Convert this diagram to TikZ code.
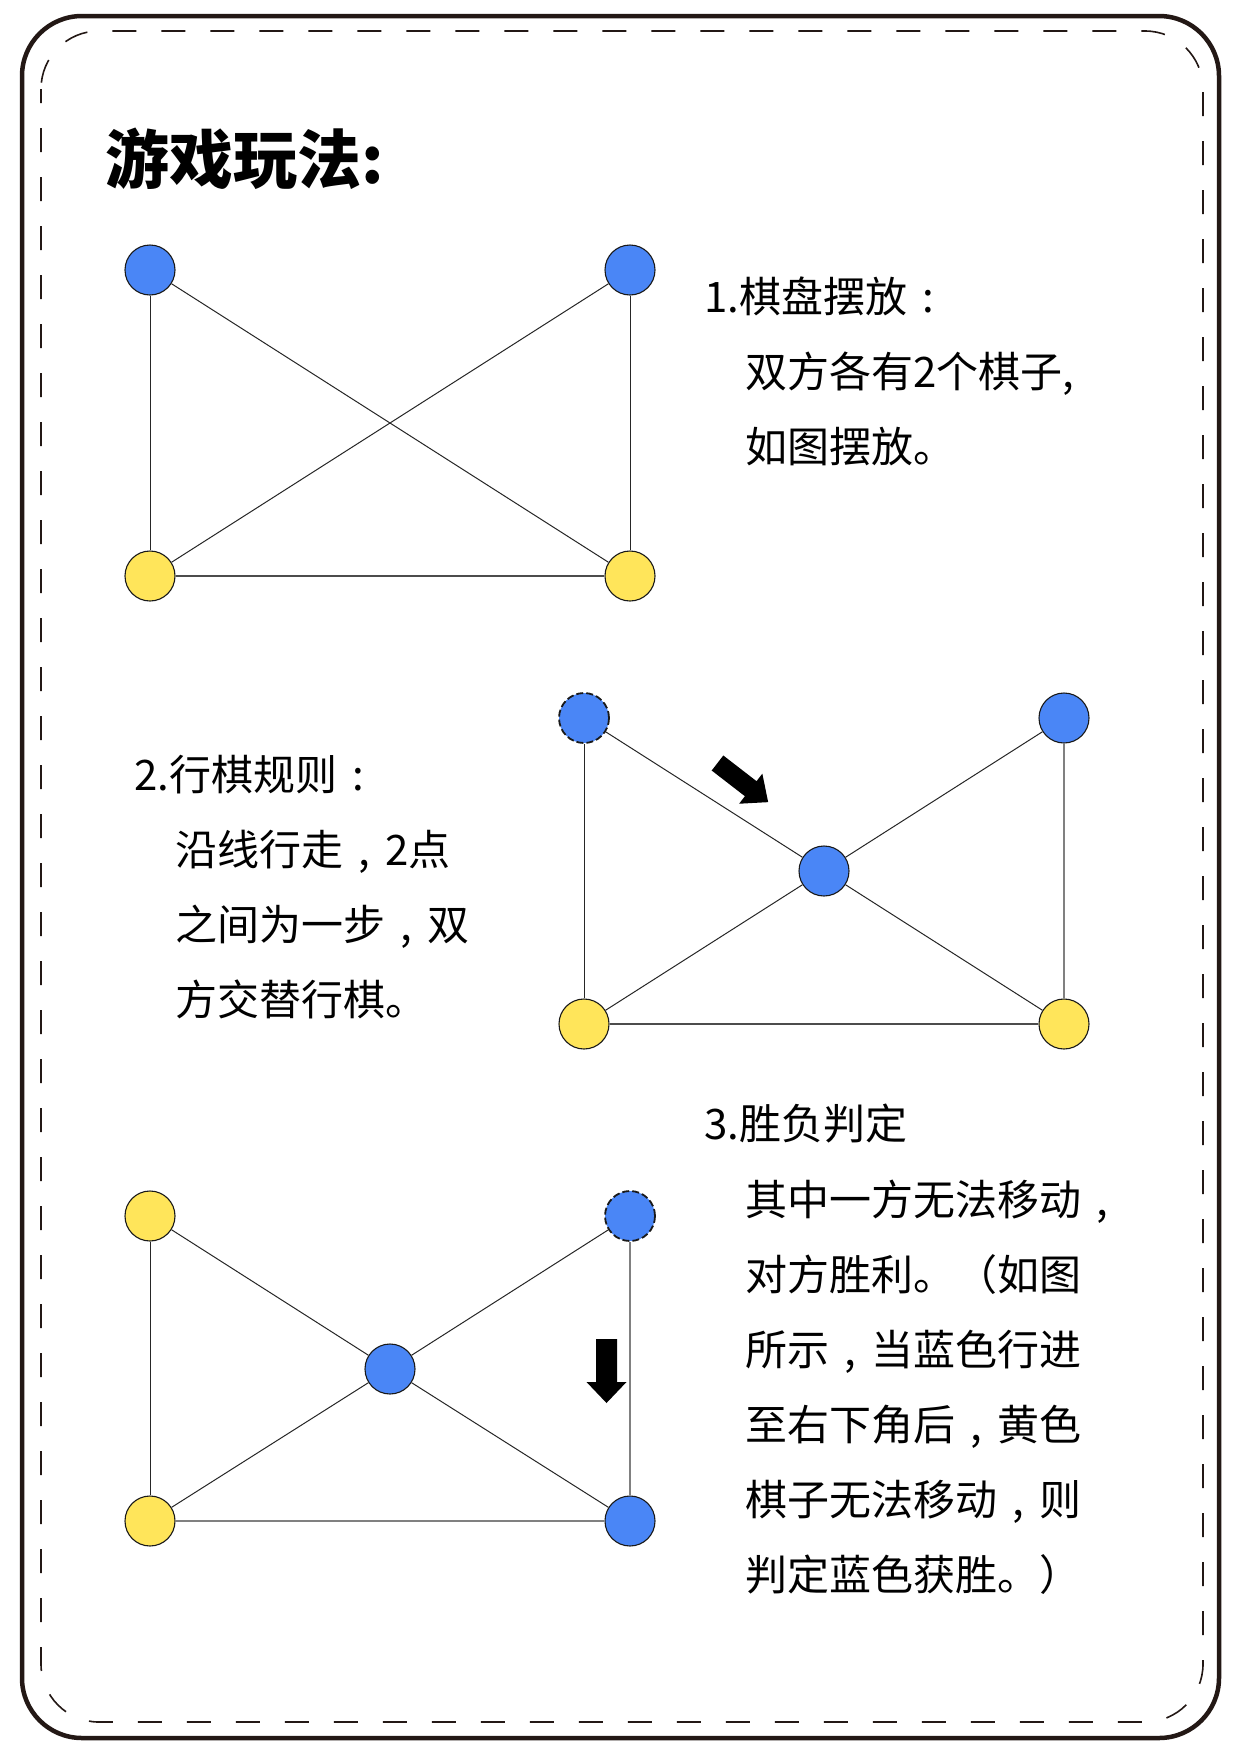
\documentclass[tikz,border=0pt]{standalone}
\usepackage{fontspec}
\setmainfont{Noto Sans CJK SC}
\usepackage{tikz}
\usetikzlibrary{calc}

\definecolor{pieceblue}{RGB}{74,134,246}
\definecolor{pieceyellow}{RGB}{255,229,90}
\definecolor{framec}{RGB}{35,24,21}
\newcommand{\zw}[1]{\makebox[1em][c]{#1}}

\begin{document}
\begin{tikzpicture}[x=1pt, y=-1pt,
    piece/.style={circle, draw=black!90, line width=1.1pt, minimum size=50pt, inner sep=0pt},
    bluep/.style={piece, fill=pieceblue},
    yellowp/.style={piece, fill=pieceyellow},
    ghost/.style={dash pattern=on 7pt off 3pt, line width=1.8pt},
    edge/.style={line width=1pt, black!85},
    darkedge/.style={line width=1.6pt, black!70},
    greyedge/.style={line width=1.4pt, black!50},
    txt/.style={anchor=base west, inner sep=0pt, font=\fontsize{42pt}{48pt}\selectfont},
    move/.style={fill=black}]
    \useasboundingbox (0,0) rectangle (1241,1754);
    % Frame
    \draw[line width=4.5pt, framec, rounded corners=60pt] (22,16) rectangle (1219,1738);
    \draw[line width=1.6pt, framec, dash pattern=on 24pt off 25pt, dash phase=10pt, rounded corners=58pt] (41,31) rectangle (1203,1722);
    \node[anchor=base west, inner sep=0pt, font=\fontsize{64pt}{70pt}\selectfont\bfseries] (title) at (105,183) {游戏玩法:};

    % Nodes
    \node[bluep] (a1) at (150,270) {};
    \node[bluep] (a2) at (630,270) {};
    \node[yellowp] (a3) at (150,576) {};
    \node[yellowp] (a4) at (630,576) {};
    % Edges
    \draw[edge] (a1) -- (a3);
    \draw[edge] (a2) -- (a4);
    \draw[darkedge] (a3) -- (a4);
    \draw[edge] (a1) -- (a4);
    \draw[edge] (a2) -- (a3);
    % Text
    \node[txt] (r1a) at (704,312) {1.棋盘摆放\zw{:}};
    \node[txt] (r1b) at (745,387) {双方各有2个棋子,};
    \node[txt] (r1c) at (745,462) {如图摆放。};

    % Nodes
    \node[bluep, ghost] (b1) at (584,718) {};
    \node[bluep] (b2) at (1064,718) {};
    \node[bluep] (b0) at (824,871) {};
    \node[yellowp] (b3) at (584,1024) {};
    \node[yellowp] (b4) at (1064,1024) {};
    % Edges
    \draw[edge] (b1) -- (b0);
    \draw[edge] (b0) -- (b2);
    \draw[edge] (b0) -- (b3);
    \draw[edge] (b0) -- (b4);
    \draw[edge] (b1) -- (b3);
    \draw[greyedge] (b2) -- (b4);
    \draw[darkedge] (b3) -- (b4);
    \fill[move, shift={(717.5,763)}, rotate=-37.7] (0,-9.5) -- (42,-9.5) -- (42,-19) -- (64,0) -- (42,19) -- (42,9.5) -- (0,9.5) -- cycle;
    % Text
    \node[txt] (r2a) at (134,790) {2.行棋规则\zw{:}};
    \node[txt] (r2b) at (175,865) {沿线行走\zw{,}2点};
    \node[txt] (r2c) at (175,940) {之间为一步\zw{,}双};
    \node[txt] (r2d) at (175,1015) {方交替行棋。};

    % Nodes
    \node[yellowp] (c1) at (150,1216) {};
    \node[bluep, ghost] (c2) at (630,1216) {};
    \node[bluep] (c0) at (390,1369) {};
    \node[yellowp] (c3) at (150,1521) {};
    \node[bluep] (c4) at (630,1521) {};
    % Edges
    \draw[edge] (c1) -- (c0);
    \draw[edge] (c0) -- (c2);
    \draw[edge] (c0) -- (c3);
    \draw[edge] (c0) -- (c4);
    \draw[edge] (c1) -- (c3);
    \draw[greyedge] (c2) -- (c4);
    \draw[greyedge] (c3) -- (c4);
    \fill[move, shift={(606.5,1339)}, rotate=-90] (0,-10.5) -- (43,-10.5) -- (43,-20) -- (64,0) -- (43,20) -- (43,10.5) -- (0,10.5) -- cycle;
    % Text
    \node[txt] (r3a) at (704,1139) {3.胜负判定};
    \node[txt] (r3b) at (745,1215) {其中一方无法移动\zw{,}};
    \node[txt] (r3c) at (745,1290) {对方胜利。（如图};
    \node[txt] (r3d) at (745,1365) {所示\zw{,}当蓝色行进};
    \node[txt] (r3e) at (745,1440) {至右下角后\zw{,}黄色};
    \node[txt] (r3f) at (745,1515) {棋子无法移动\zw{,}则};
    \node[txt] (r3g) at (745,1590) {判定蓝色获胜。）};
\end{tikzpicture}
\end{document}
